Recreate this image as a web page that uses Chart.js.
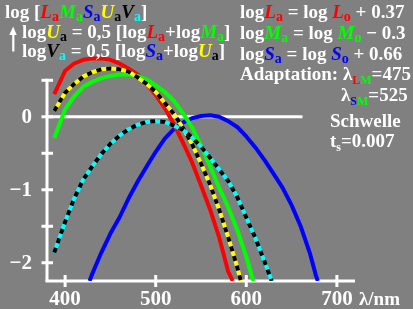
<!DOCTYPE html>
<html><head><meta charset="utf-8">
<script src="https://cdn.jsdelivr.net/npm/chart.js@4"></script>
<style>
html,body{margin:0;padding:0;background:#808080;}
#wrap{position:relative;width:413px;height:309px;overflow:hidden;background:#808080;}
canvas{position:absolute;left:0;top:0;}
.t{position:absolute;white-space:nowrap;font-family:"Liberation Serif","Times New Roman",serif;font-weight:bold;font-size:19px;line-height:19px;color:#fff;}
.i{font-style:italic;}
.s{font-size:14px;position:relative;top:3px;font-style:normal;}
.ss{font-size:12px;position:relative;top:4px;font-style:normal;}
.r{color:#ff0000}.g{color:#00ff00}.b{color:#0000ff}.y{color:#ffff00}.k{color:#000}.c{color:#00ffff}
</style></head>
<body>
<div id="wrap">
<canvas id="c" width="413" height="309"></canvas>
<div class="t" style="left:5px;top:2px">log [<span class="i r">L</span><span class="s r">a</span><span class="i g">M</span><span class="s g">a</span><span class="i b">S</span><span class="s b">a</span><span class="i y">U</span><span class="s k">a</span><span class="i k">V</span><span class="s c">a</span>]</div>
<div class="t" style="left:22px;top:22px">log<span class="i y">U</span><span class="s k">a</span> = 0,5 [log<span class="i r">L</span><span class="s r">a</span>+log<span class="i g">M</span><span class="s g">a</span>]</div>
<div class="t" style="left:22px;top:41px">log<span class="i k">V</span><span class="s c">a</span> = 0,5 [log<span class="i b">S</span><span class="s b">a</span>+log<span class="i y">U</span><span class="s k">a</span>]</div>
<div class="t" style="left:240px;top:2px">log<span class="i r">L</span><span class="s r">a</span> = log <span class="i r">L</span><span class="s r">o</span> + 0.37</div>
<div class="t" style="left:240px;top:23px">log<span class="i g">M</span><span class="s g">a</span> = log <span class="i g">M</span><span class="s g">o</span> − 0.3</div>
<div class="t" style="left:240px;top:44px">log<span class="i b">S</span><span class="s b">a</span> = log <span class="i b">S</span><span class="s b">o</span> + 0.66</div>
<div class="t" style="left:240px;top:64px">Adaptation: λ<span class="ss r">L</span><span class="ss g">M</span>=475</div>
<div class="t" style="left:341px;top:85px">λ<span class="ss b">S</span><span class="ss g">M</span>=525</div>
<div class="t" style="left:330px;top:111px">Schwelle</div>
<div class="t" style="left:330px;top:131px">t<span class="ss">s</span>=0.007</div>
</div>
<script>
// axis ranges and tick labels
const X_MIN = 380, X_MAX = 720, Y_MIN = -2.25, Y_MAX = 1.6;
const xTicks = [400, 500, 600, 700];
const xTickLabels = ["400", "500", "600", "700"];
const yTicks = [-2, -1.5, -1, -0.5, 0, 0.5];
const yLabelValues = [0, -1, -2];
const yTickLabels = ["0", "−1", "−2"];
const xUnit = "λ/nm";
const zeroLineX = [380, 662];
const zeroLineY = [0, 0];

// L_a (red)
const lamL = [388,400,410,420,430,440,450,460,470,480,490,500,510,520,530,540,550,560,570,580,585];
const valL = [0.31,0.63,0.73,0.78,0.80,0.80,0.78,0.73,0.66,0.58,0.45,0.30,0.12,-0.10,-0.35,-0.62,-0.94,-1.27,-1.65,-2.12,-2.25];
// M_a (green)
const lamM = [388,400,410,420,430,440,450,460,470,480,490,500,510,520,530,540,550,560,570,580,590,600,606,608];
const valM = [-0.29,0.10,0.28,0.41,0.48,0.53,0.56,0.58,0.58,0.56,0.51,0.43,0.34,0.22,0.05,-0.14,-0.40,-0.68,-0.97,-1.24,-1.55,-1.92,-2.18,-2.25];
// U_a (yellow)
const lamU = [388,400,410,420,430,440,450,460,470,480,490,500,510,520,530,540,550,560,570,580,590,594];
const valU = [0.08,0.33,0.45,0.55,0.61,0.65,0.66,0.65,0.62,0.54,0.45,0.34,0.19,0.04,-0.15,-0.37,-0.64,-0.93,-1.27,-1.65,-2.06,-2.25];
// S_a (blue)
const lamS = [427,430,440,450,460,470,480,490,500,510,520,530,540,550,560,570,580,590,600,610,620,630,640,650,660,670,677,679];
const valS = [-2.25,-2.15,-1.86,-1.60,-1.38,-1.12,-0.89,-0.68,-0.48,-0.30,-0.17,-0.08,-0.02,0.01,0.02,0.0,-0.06,-0.14,-0.27,-0.42,-0.59,-0.78,-0.97,-1.21,-1.50,-1.86,-2.18,-2.25];
// V_a (cyan)
const lamV = [388,400,410,420,430,440,450,460,470,480,490,500,510,520,530,540,550,560,570,580,590,600,610,620,626,628];
const valV = [-1.86,-1.44,-1.12,-0.86,-0.68,-0.51,-0.37,-0.26,-0.17,-0.11,-0.07,-0.06,-0.07,-0.12,-0.18,-0.28,-0.41,-0.56,-0.72,-0.88,-1.10,-1.38,-1.66,-1.98,-2.18,-2.25];

const pts = (xs, ys) => xs.map((v, i) => ({x: v, y: ys[i]}));
const line = (data, color, w, dash) => ({
  data, borderColor: color, borderWidth: w, borderDash: dash || [],
  pointRadius: 0, tension: 0, fill: false, borderCapStyle: 'butt', borderJoinStyle: 'round'
});

const FONT = '"Liberation Serif", "Times New Roman", serif';

const axesPlugin = {
  id: 'axesPlugin',
  beforeDatasetsDraw(chart) {
    const {ctx, scales: {x, y}} = chart;
    ctx.save();
    ctx.strokeStyle = '#fff';
    ctx.fillStyle = '#fff';
    ctx.lineWidth = 3;
    const x0 = x.getPixelForValue(X_MIN);
    const yb = y.getPixelForValue(Y_MIN);
    // x axis
    ctx.beginPath();
    ctx.moveTo(x0 - 1.5, yb); ctx.lineTo(x.getPixelForValue(X_MAX), yb); ctx.stroke();
    // y axis
    ctx.beginPath();
    ctx.moveTo(x0, y.getPixelForValue(0.5) - 1.5); ctx.lineTo(x0, yb); ctx.stroke();
    // y ticks
    yTicks.forEach(v => {
      const py = y.getPixelForValue(v);
      ctx.beginPath(); ctx.moveTo(x0 - 5.5, py); ctx.lineTo(x0 + 6, py); ctx.stroke();
    });
    // x ticks
    xTicks.forEach(v => {
      const px = x.getPixelForValue(v);
      ctx.beginPath(); ctx.moveTo(px, yb - 6); ctx.lineTo(px, yb + 6); ctx.stroke();
    });
    // labels
    ctx.font = 'bold 21px ' + FONT;
    ctx.textAlign = 'center';
    ctx.textBaseline = 'alphabetic';
    xTicks.forEach((v, i) => ctx.fillText(xTickLabels[i], x.getPixelForValue(v), 305));
    ctx.textAlign = 'left';
    ctx.font = 'bold 19px ' + FONT;
    ctx.fillText(xUnit, 359, 305);
    ctx.font = 'bold 21px ' + FONT;
    ctx.textAlign = 'right';
    ctx.textBaseline = 'middle';
    yLabelValues.forEach((v, i) => ctx.fillText(yTickLabels[i], 32, y.getPixelForValue(v) + 1));
    // arrow
    ctx.beginPath();
    ctx.moveTo(9.3, 35); ctx.lineTo(16.7, 35); ctx.lineTo(13.2, 26.5); ctx.closePath(); ctx.fill();
    ctx.fillRect(12.2, 33, 2.2, 18.5);
    ctx.restore();
  }
};

new Chart(document.getElementById('c'), {
  type: 'line',
  data: {
    datasets: [
      line(pts(lamV, valV), '#000000', 4, [5, 5]),
      line(pts(lamV, valV), '#00ffff', 4),
      line(pts(lamU, valU), '#000000', 4, [5, 5]),
      line(pts(lamU, valU), '#ffff00', 4),
      line(pts(lamM, valM), '#00ff00', 4),
      line(pts(lamL, valL), '#ff0000', 4),
      line(pts(lamS, valS), '#0000ff', 4),
      line(pts(zeroLineX, zeroLineY), '#ffffff', 3)
    ]
  },
  plugins: [axesPlugin],
  options: {
    responsive: false,
    devicePixelRatio: 1,
    animation: false,
    events: [],
    layout: {padding: {left: 47, right: 58, top: 0, bottom: 28}},
    plugins: {legend: {display: false}, tooltip: {enabled: false}},
    scales: {
      x: {type: 'linear', min: X_MIN, max: X_MAX, display: false},
      y: {type: 'linear', min: Y_MIN, max: Y_MAX, display: false}
    }
  }
});
</script>
</body></html>
